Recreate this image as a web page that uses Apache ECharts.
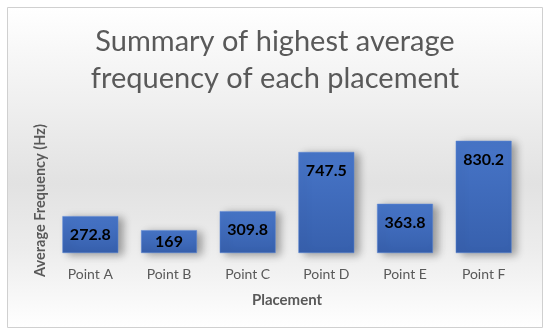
<!DOCTYPE html>
<html><head><meta charset="utf-8">
<script src="https://cdn.jsdelivr.net/npm/echarts@6/dist/echarts.min.js"></script>
<style>html,body{margin:0;padding:0;background:#fff}#c{width:550px;height:336px}</style>
</head><body><div id="c"></div>
<script>
const categories = ['Point A','Point B','Point C','Point D','Point E','Point F'];
const values = [272.8, 169, 309.8, 747.5, 363.8, 830.2];
const titleText = 'Summary of highest average\nfrequency of each placement';
const xName = 'Placement';
const yName = 'Average Frequency (Hz)';

const chart = echarts.init(document.getElementById('c'));
const font = 'Lato, "Open Sans", sans-serif';
chart.setOption({
  backgroundColor: '#fff',
  animation: false,
  graphic: [{
    type: 'rect', z: -10,
    shape: {x: 7.5, y: 7.5, width: 535, height: 320},
    style: {
      fill: new echarts.graphic.LinearGradient(0, 0, 0, 1, [
        {offset: 0, color: '#ffffff'},
        {offset: 0.55, color: '#e2e2e2'},
        {offset: 0.75, color: '#ececec'},
        {offset: 1, color: '#ffffff'}
      ]),
      stroke: '#d0d0d0', lineWidth: 1
    }
  }],
  title: {
    text: titleText, left: 'center', top: 18,
    textStyle: {fontFamily: font, fontSize: 29, fontWeight: 'normal', color: '#595959', lineHeight: 37}
  },
  grid: {left: 51, right: 27, top: 128, bottom: 83},
  xAxis: {
    type: 'category', data: categories,
    name: xName, nameLocation: 'middle', nameGap: 40,
    nameTextStyle: {fontFamily: font, fontSize: 15, fontWeight: 'bold', color: '#595959'},
    axisLine: {show: false}, axisTick: {show: false},
    axisLabel: {fontFamily: font, fontSize: 14, color: '#595959', margin: 14}
  },
  yAxis: {
    type: 'value', min: 0, max: 925, show: true,
    name: yName, nameLocation: 'middle', nameGap: 3, nameRotate: 90,
    nameTextStyle: {fontFamily: font, fontSize: 14.5, fontWeight: 'bold', color: '#595959', padding: [0,0,0,-20]},
    axisLine: {show: false}, axisTick: {show: false}, axisLabel: {show: false}, splitLine: {show: false}
  },
  series: [{
    type: 'bar',
    data: values.map(v => ({value: v, label: v < 200 ? {position: 'inside'} : undefined})),
    barCategoryGap: '29%',
    itemStyle: {
      color: new echarts.graphic.LinearGradient(0, 0, 0, 1, [
        {offset: 0, color: '#4775c8'},
        {offset: 1, color: '#3760ad'}
      ]),
      borderColor: '#5b87d6', borderWidth: 0.5,
      shadowColor: 'rgba(0,0,0,0.35)', shadowBlur: 8, shadowOffsetX: 5, shadowOffsetY: 2
    },
    label: {
      show: true, position: 'insideTop', distance: 11,
      fontFamily: font, fontSize: 16, fontWeight: 'bold', color: '#000'
    }
  }]
});
</script></body></html>
